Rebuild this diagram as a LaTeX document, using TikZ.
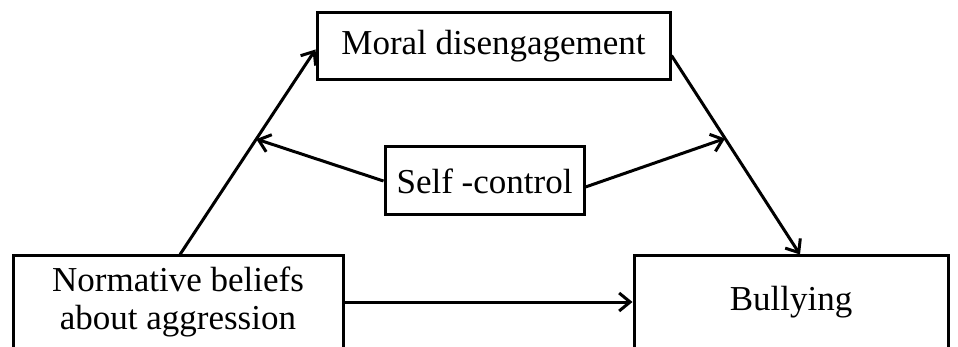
\documentclass[tikz,border=0pt]{standalone}
\usepackage{fontspec}
\setmainfont{Liberation Serif}
\usetikzlibrary{arrows.meta,calc}
\begin{document}
\begin{tikzpicture}[x=1pt,y=-1pt,
  box/.style={draw, line width=3pt, inner sep=0pt, align=center,
    font=\fontsize{35}{38}\selectfont},
  conn/.style={line width=3pt, -{Straight Barb[length=11pt,width=18pt,line width=3pt]}}]
\useasboundingbox (0,0) rectangle (958,347);
\clip (0,0) rectangle (958,347);
\node[box, minimum width=353pt, minimum height=67pt] (md) at (493.5,46.5) {Moral disengagement};
\node[box, minimum width=199pt, minimum height=68pt] (sc) at (484.5,181) {Self -control};
\node[box, minimum width=330pt, minimum height=92pt] (nb) at (178,302) {Normative beliefs\\about aggression};
\node[box, minimum width=314pt, minimum height=92pt] (bu) at (791,302) {Bullying};
\coordinate (ls) at ([xshift=2pt]nb.north);
\coordinate (le) at ([yshift=-3pt]md.west);
\coordinate (rs) at ([yshift=-9pt]md.east);
\coordinate (re) at ([xshift=9pt]bu.north);
\draw[conn] (ls) -- (le);
\draw[conn] (rs) -- (re);
\draw[conn] (nb.east) -- (bu.west);
\coordinate (lm) at ($(ls)!0.563!(le)$);
\coordinate (rm) at ($(rs)!0.417!(re)$);
\draw[conn] (sc.west) -- (lm);
\draw[conn] ([yshift=-6pt]sc.east) -- (rm);
\end{tikzpicture}
\end{document}
